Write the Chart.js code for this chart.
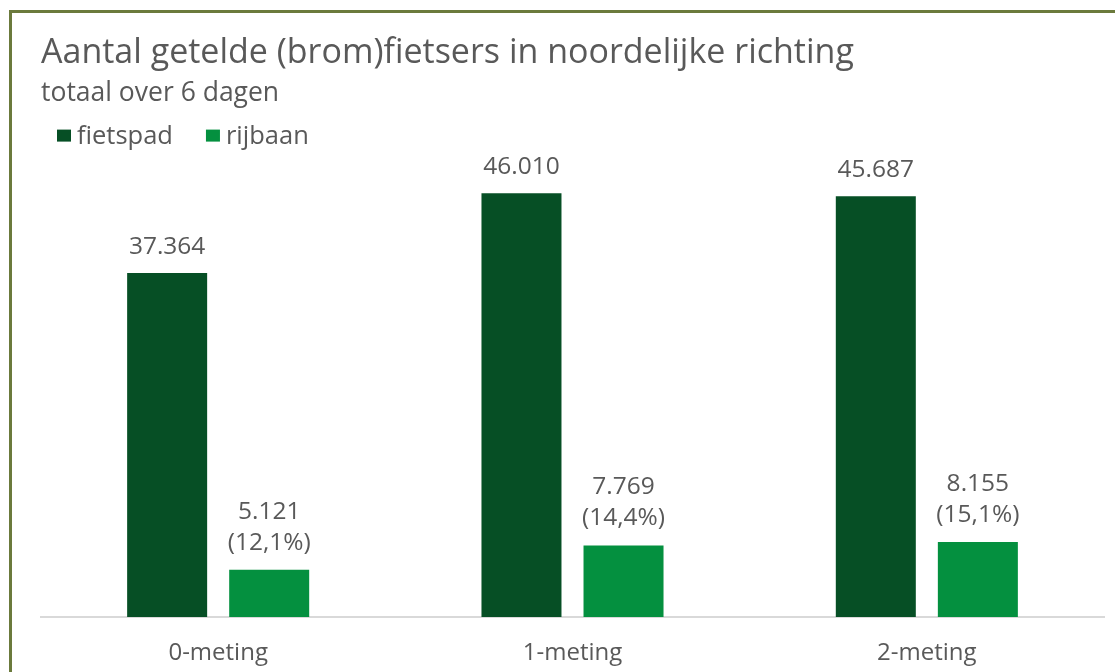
<!DOCTYPE html>
<html>
<head>
<meta charset="utf-8">
<script src="https://cdn.jsdelivr.net/npm/chart.js@4.4.1/dist/chart.umd.min.js"></script>
<style>
  html, body { margin: 0; padding: 0; background: #fff; overflow: hidden; }
  .frame {
    position: absolute; left: 9px; top: 10px; width: 1200px; height: 800px;
    border: 3px solid #6b7a3c;
  }
  .wrap { position: absolute; left: 0; top: 0; width: 1115px; height: 672px; }
</style>
</head>
<body>
<div class="frame"></div>
<div class="wrap"><canvas id="chart"></canvas></div>
<script>
// chart data
const categories = ["0-meting", "1-meting", "2-meting"];
const fietspad = [37364, 46010, 45687];
const rijbaan = [5121, 7769, 8155];
const rijbaanPct = ["12,1%", "14,4%", "15,1%"];

const grey = "#595959";
const fontFamily = "'Open Sans', sans-serif";

function fmt(v) {
  return String(v).replace(/\B(?=(\d{3})+(?!\d))/g, ".");
}

// value labels above each bar
const valueLabels = {
  id: "valueLabels",
  afterDatasetsDraw(chart) {
    const ctx = chart.ctx;
    ctx.save();
    ctx.font = "24.5px " + fontFamily;
    ctx.fillStyle = grey;
    ctx.textAlign = "center";
    ctx.textBaseline = "alphabetic";
    chart.data.datasets.forEach(function (ds, i) {
      const meta = chart.getDatasetMeta(i);
      meta.data.forEach(function (bar, j) {
        if (i === 0) {
          ctx.fillText(fmt(ds.data[j]), bar.x, bar.y - 19);
        } else {
          ctx.fillText("(" + rijbaanPct[j] + ")", bar.x, bar.y - 20);
          ctx.fillText(fmt(ds.data[j]), bar.x, bar.y - 51);
        }
      });
    });
    ctx.restore();
  },
};

// simple legend, Excel style (small gap between box and text)
const excelLegend = {
  id: "excelLegend",
  afterDraw(chart) {
    const ctx = chart.ctx;
    const y = chart.chartArea.top - 20;
    let x = 57;
    ctx.save();
    ctx.font = "25.5px " + fontFamily;
    ctx.textBaseline = "middle";
    chart.data.datasets.forEach(function (ds) {
      ctx.fillStyle = ds.backgroundColor;
      ctx.fillRect(x, y - 6, 14, 12);
      ctx.fillStyle = grey;
      ctx.fillText(ds.label, x + 20, y + 1);
      x += 20 + ctx.measureText(ds.label).width + 33;
    });
    ctx.restore();
  },
};

const ctx = document.getElementById("chart").getContext("2d");
const chart = new Chart(ctx, {
  type: "bar",
  data: {
    labels: categories,
    datasets: [
      {
        label: "fietspad",
        data: fietspad,
        backgroundColor: "#064f25",
        borderWidth: 0,
      },
      {
        label: "rijbaan",
        data: rijbaan,
        backgroundColor: "#04903f",
        borderWidth: 0,
      },
    ],
  },
  options: {
    responsive: true,
    maintainAspectRatio: false,
    animation: false,
    categoryPercentage: 0.576,
    barPercentage: 0.784,
    layout: {
      padding: { left: 41, right: 11, top: 0, bottom: 0 },
    },
    scales: {
      y: {
        display: false,
        min: 0,
        max: 50100,
      },
      x: {
        grid: { display: false, drawTicks: false, tickLength: 0 },
        border: { display: true, color: "#d9d9d9", width: 2 },
        ticks: {
          color: grey,
          padding: 22,
          font: { family: fontFamily, size: 24 },
        },
        afterFit: function (scale) {
          scale.height = 55;
        },
      },
    },
    plugins: {
      title: {
        display: true,
        text: "Aantal getelde (brom)fietsers in noordelijke richting",
        align: "start",
        color: grey,
        font: { family: fontFamily, size: 34, weight: "normal" },
        padding: { top: 33, bottom: 0 },
      },
      subtitle: {
        display: true,
        text: "totaal over 6 dagen",
        align: "start",
        color: grey,
        font: { family: fontFamily, size: 26.5, weight: "normal" },
        padding: { top: 4, bottom: 46 },
      },
      legend: { display: false },
      tooltip: { enabled: false },
    },
  },
  plugins: [valueLabels, excelLegend],
});
</script>
</body>
</html>
